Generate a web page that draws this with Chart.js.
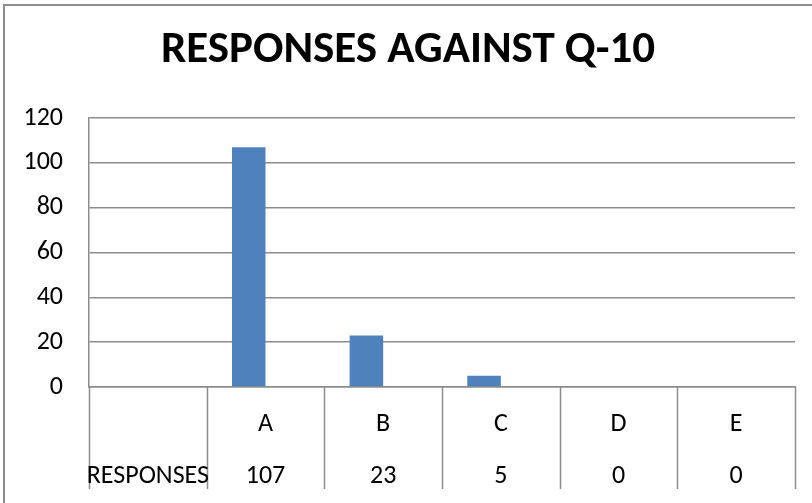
<!DOCTYPE html>
<html>
<head>
<meta charset="utf-8">
<script src="https://cdn.jsdelivr.net/npm/chart.js@4.4.1/dist/chart.umd.min.js"></script>
<style>
  html, body { margin: 0; padding: 0; background: #fff; }
  #wrap { width: 812px; height: 503px; }
</style>
</head>
<body>
<div id="wrap"><canvas id="chart" width="812" height="503"></canvas></div>
<script>
// datos
const categories = ['', 'A', 'B', 'C', 'D', 'E'];
const responses = [null, 107, 23, 5, 0, 0];
const rowLabel = 'RESPONSES';
const yTicks = [0, 20, 40, 60, 80, 100, 120];
const chartTitle = 'RESPONSES AGAINST Q-10';

const FONT = "Carlito, 'Liberation Sans Narrow', 'Liberation Sans', sans-serif";
const GRID = '#8c8c8c';

// dibuja el borde exterior y la tabla de datos bajo el eje
const dataTablePlugin = {
  id: 'dataTable',
  beforeDraw(chart) {
    const ctx = chart.ctx;
    ctx.save();
    ctx.strokeStyle = GRID;
    ctx.lineWidth = 2;
    ctx.strokeRect(4, 5, 900, 600);
    ctx.restore();
  },
  afterDraw(chart) {
    const ctx = chart.ctx;
    const x = chart.scales.x;
    const area = chart.chartArea;
    const step = (area.right - area.left) / categories.length;
    const bottom = area.bottom + 102;
    ctx.save();
    ctx.strokeStyle = GRID;
    ctx.lineWidth = 1.5;
    for (let i = 0; i <= categories.length; i++) {
      const px = Math.round(area.left + i * step) + 0.5;
      ctx.beginPath();
      ctx.moveTo(px, area.bottom);
      ctx.lineTo(px, bottom);
      ctx.stroke();
    }
    ctx.fillStyle = '#000';
    ctx.font = '26px ' + FONT;
    ctx.textAlign = 'center';
    ctx.textBaseline = 'middle';
    categories.forEach((c, i) => {
      const cx = x.getPixelForValue(i);
      if (c) ctx.fillText(c, cx, area.bottom + 37);
      const v = responses[i];
      ctx.fillText(i === 0 ? rowLabel : String(v), cx, area.bottom + 89);
    });
    ctx.restore();
  }
};

new Chart(document.getElementById('chart').getContext('2d'), {
  type: 'bar',
  data: {
    labels: categories,
    datasets: [
      { label: rowLabel, data: responses, backgroundColor: '#4f81bd' },
      { label: '', data: categories.map(() => null), backgroundColor: '#c0504d' }
    ]
  },
  options: {
    responsive: false,
    animation: false,
    datasets: { bar: { categoryPercentage: 0.57, barPercentage: 1 } },
    layout: { padding: { left: 21, right: 17, top: 0, bottom: 0 } },
    plugins: {
      legend: { display: false },
      tooltip: { enabled: false },
      title: {
        display: true,
        text: chartTitle,
        color: '#000',
        font: { family: FONT, size: 45, weight: 'bold' },
        padding: { top: 24, bottom: 40 }
      }
    },
    scales: {
      x: {
        grid: { display: false },
        border: { display: true, color: GRID, width: 1.5 },
        ticks: { display: false },
        afterFit(scale) { scale.height = 116; }
      },
      y: {
        min: 0,
        max: 120,
        afterBuildTicks(scale) { scale.ticks = yTicks.map(v => ({ value: v })); },
        grid: { color: GRID, lineWidth: 1.5, drawTicks: false },
        border: { display: true, color: GRID, width: 1.5 },
        ticks: { color: '#000', padding: 26, font: { family: FONT, size: 26 } },
        afterFit(scale) { scale.width = 68; }
      }
    }
  },
  plugins: [dataTablePlugin]
});
</script>
</body>
</html>
